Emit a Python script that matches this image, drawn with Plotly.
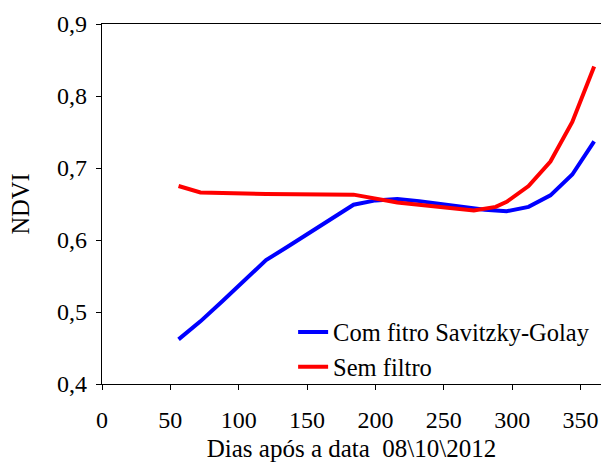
import plotly.graph_objects as go

# Data
blue_days = [56, 72, 88, 104, 120, 136, 152, 168, 184, 200, 216, 232, 248, 264, 280, 296, 312, 328, 344, 360]
blue_ndvi = [0.462, 0.487, 0.515, 0.544, 0.572, 0.591, 0.610, 0.630, 0.649, 0.655, 0.657, 0.654,
             0.650, 0.646, 0.642, 0.640, 0.646, 0.662, 0.691, 0.737]

red_days = [56, 72, 120, 184, 216, 272, 288, 296, 312, 328, 344, 360]
red_ndvi = [0.675, 0.666, 0.664, 0.663, 0.652, 0.641, 0.646, 0.653, 0.675, 0.709, 0.764, 0.841]

blue_name = "Com fitro Savitzky-Golay"
red_name = "Sem filtro"
x_title = "Dias após a data&nbsp; 08\\10\\2012"
y_title = "NDVI"
x_ticks = [0, 50, 100, 150, 200, 250, 300, 350]
y_ticks = [0.4, 0.5, 0.6, 0.7, 0.8, 0.9]

FONT = "Liberation Serif, Times New Roman, serif"

fig = go.Figure()
fig.add_trace(go.Scatter(x=blue_days, y=blue_ndvi, mode="lines", name=blue_name,
                         line=dict(color="#0000FF", width=4), legendgroup="a"))
fig.add_trace(go.Scatter(x=red_days, y=red_ndvi, mode="lines", name=red_name,
                         line=dict(color="#FF0000", width=4), legendgroup="b"))

fig.update_layout(
    width=601, height=462,
    margin=dict(l=102, r=0, t=24, b=78, pad=0),
    paper_bgcolor="white", plot_bgcolor="white",
    font=dict(family=FONT, size=24, color="black"),
    separators=", ",
    showlegend=True,
    legend=dict(x=0.383, y=0.207, xanchor="left", yanchor="top",
                bgcolor="rgba(0,0,0,0)", font=dict(family=FONT, size=24.5),
                tracegroupgap=0, itemwidth=30),
    xaxis=dict(range=[0, 365], tickvals=x_ticks, showgrid=False, zeroline=False,
               showline=True, linecolor="black", linewidth=1.3, mirror=True,
               ticks="outside", ticklen=5, tickcolor="black", tickwidth=1.3,
               ticklabelstandoff=9, automargin=False,
               title=dict(text=x_title, standoff=8, font=dict(size=25))),
    yaxis=dict(range=[0.4, 0.9], tickvals=y_ticks, tickformat=".1f", showgrid=False,
               zeroline=False, showline=True, linecolor="black", linewidth=1.3,
               ticks="outside", ticklen=5, tickcolor="black", tickwidth=1.3,
               ticklabelstandoff=4, automargin=False,
               title=dict(text=y_title, standoff=20, font=dict(size=24.5))),
)

fig.write_html("out.html", config={"displayModeBar": False},
               post_script="document.body.style.margin='0';")
